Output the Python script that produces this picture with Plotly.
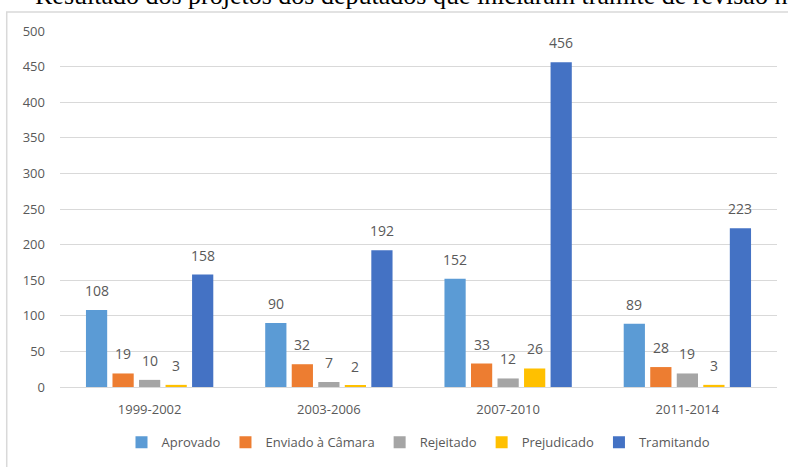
import plotly.graph_objects as go

categories = ["1999-2002", "2003-2006", "2007-2010", "2011-2014"]
series_names = ["Aprovado", "Enviado à Câmara", "Rejeitado", "Prejudicado", "Tramitando"]
aprovado = [108, 90, 152, 89]
enviado = [19, 32, 33, 28]
rejeitado = [10, 7, 12, 19]
prejudicado = [3, 2, 26, 3]
tramitando = [158, 192, 456, 223]
colors = ["#5B9BD5", "#ED7D31", "#A5A5A5", "#FFC000", "#4472C4"]
y_ticks = [0, 50, 100, 150, 200, 250, 300, 350, 400, 450, 500]

values = [aprovado, enviado, rejeitado, prejudicado, tramitando]
txt = "#595959"
font = "Open Sans"

W, H = 788, 467
ML, MR, MT, MB = 60, 11, 31, 80
BARGAP = 0.26

fig = go.Figure()
for name, vals, col in zip(series_names, values, colors):
    fig.add_trace(go.Bar(
        x=categories, y=vals, name=name, marker=dict(color=col, line=dict(width=0)),
        textposition="none",
    ))

# data labels above each bar
cat_px = (W - ML - MR) / len(categories)
pitch = cat_px * (1 - BARGAP) / len(series_names)
n = len(series_names)
for i, vals in enumerate(values):
    off = (i - (n - 1) / 2) * pitch
    for c, v in zip(categories, vals):
        fig.add_annotation(x=c, y=v, text=str(v), showarrow=False, xshift=off,
                           yanchor="bottom", yshift=8,
                           font=dict(color=txt, size=14, family=font))

fig.update_layout(
    width=W, height=H,
    margin=dict(l=ML, r=MR, t=MT, b=MB, autoexpand=False),
    paper_bgcolor="white", plot_bgcolor="white",
    barmode="group", bargap=BARGAP, bargroupgap=0.2,
    font=dict(family=font, color=txt, size=13),
    showlegend=True,
    legend=dict(orientation="h", x=0.5, xanchor="center", y=-0.155, yanchor="middle",
                font=dict(size=13, color=txt, family=font), itemwidth=30,
                traceorder="normal", bgcolor="rgba(0,0,0,0)"),
    xaxis=dict(showgrid=False, showline=True, linecolor="#D9D9D9", linewidth=1,
               ticks="", tickfont=dict(size=13, color=txt), ticklabelstandoff=10,
               automargin=False),
    yaxis=dict(range=[0, 500], tickvals=y_ticks, showgrid=True, gridcolor="#D9D9D9",
               gridwidth=1, zeroline=False, showline=False, ticks="",
               tickfont=dict(size=13, color=txt), ticklabelstandoff=14, automargin=False),
)

fig.add_shape(type="rect", xref="paper", yref="paper",
              x0=-0.0743, x1=1.05, y0=-0.3, y1=1.0534,
              line=dict(color="#D9D9D9", width=1.5), fillcolor="rgba(0,0,0,0)", layer="below")

fig.add_annotation(text="Resultado dos projetos dos deputados que iniciaram trâmite de revisão na Câmara",
                   xref="paper", yref="paper", x=-0.038, y=1.0534, xanchor="left", yanchor="bottom",
                   showarrow=False, font=dict(family="Liberation Serif", size=26, color="black"))

fig.write_html("out.html")
